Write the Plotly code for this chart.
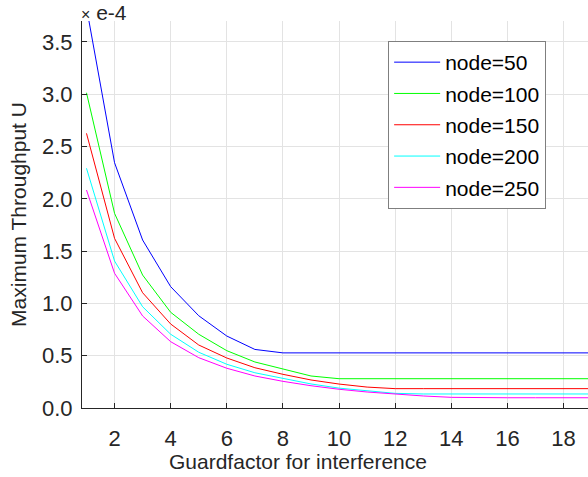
import plotly.graph_objects as go

guard = list(range(1, 21))
node50 = [3.83, 2.345, 1.606, 1.16, 0.882, 0.688, 0.56] + [0.527] * 13
node100 = [3.014, 1.861, 1.271, 0.915, 0.705, 0.548, 0.44, 0.37, 0.306] + [0.28] * 11
node150 = [2.626, 1.622, 1.102, 0.803, 0.602, 0.478, 0.385, 0.322, 0.268, 0.229, 0.20] + [0.185] * 9
node200 = [2.292, 1.405, 0.968, 0.705, 0.533, 0.418, 0.337, 0.28, 0.23, 0.19, 0.163, 0.14] + [0.134] * 8
node250 = [2.084, 1.288, 0.88, 0.634, 0.481, 0.38, 0.306, 0.255, 0.213, 0.179, 0.153, 0.131, 0.115, 0.102] + [0.098] * 6

series = [
    ("node=50", node50, "#0000ff"),
    ("node=100", node100, "#00ff00"),
    ("node=150", node150, "#ff0000"),
    ("node=200", node200, "#00ffff"),
    ("node=250", node250, "#ff00ff"),
]

x_ticks = [2, 4, 6, 8, 10, 12, 14, 16, 18]
y_ticks = [0.0, 0.5, 1.0, 1.5, 2.0, 2.5, 3.0, 3.5]

FONT = "Liberation Sans, Arial, sans-serif"
fig = go.Figure()
for i, (name, vals, col) in enumerate(series):
    fig.add_trace(go.Scatter(x=guard, y=vals, mode="lines", name=name, legendgroup=f"g{i}",
                             line=dict(color=col, width=1)))

axis_common = dict(
    showline=True, linecolor="#262626", linewidth=1,
    ticks="inside", ticklen=5, tickcolor="#262626",
    showgrid=True, gridcolor="#e3e3e3", gridwidth=1,
    zeroline=False, mirror=False,
    tickfont=dict(family=FONT, size=22, color="#262626"),
)

fig.update_layout(
    width=588, height=477,
    margin=dict(l=82, r=0, t=21, b=69),
    plot_bgcolor="white", paper_bgcolor="white",
    font=dict(family=FONT, size=21, color="#262626"),
    xaxis=dict(range=[0.84, 18.87], tickvals=x_ticks, ticktext=[str(v) for v in x_ticks],
               ticklabelstandoff=11, **axis_common),
    yaxis=dict(range=[0, 3.7], tickvals=y_ticks, ticktext=[f"{v:.1f}" for v in y_ticks],
               ticklabelstandoff=4,
               title=dict(text="Maximum Throughput U", font=dict(family=FONT, size=21, color="#262626"),
                          standoff=9),
               **axis_common),
    legend=dict(x=0.605, y=(408 - 41) / 387, xanchor="left", yanchor="top",
                bgcolor="white", bordercolor="#7f7f7f", borderwidth=1,
                font=dict(family=FONT, size=21, color="#000000"),
                itemwidth=46, tracegroupgap=1),
    showlegend=True,
)

fig.add_annotation(text="Guardfactor for interference", xref="paper", yref="paper",
                   x=(298 - 82) / 506, y=-(461 - 408) / 387, xanchor="center", yanchor="middle",
                   showarrow=False, font=dict(family=FONT, size=21, color="#262626"))
fig.add_annotation(text="<span style='font-size:16px'>×</span> e-4", xref="paper", yref="paper",
                   x=-0.006, y=1.0, xanchor="left", yanchor="bottom", yshift=-5,
                   showarrow=False, font=dict(family=FONT, size=21, color="#262626"))

fig.write_html("out.html")
